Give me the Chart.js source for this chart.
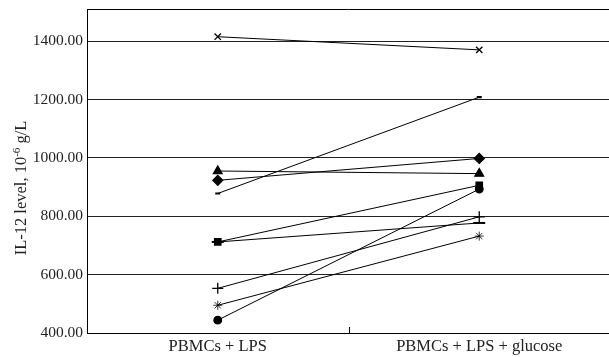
<!DOCTYPE html>
<html>
<head>
<meta charset="utf-8">
<script src="https://cdn.jsdelivr.net/npm/chart.js@4.4.1/dist/chart.umd.min.js"></script>
<style>
  html, body { margin: 0; padding: 0; background: #fff; overflow: hidden; }
  #wrap { width: 618px; height: 357px; }
</style>
</head>
<body>
<div id="wrap"><canvas id="il12" width="618" height="357"></canvas></div>
<script>
// Werte
const categories = ['PBMCs + LPS', 'PBMCs + LPS + glucose'];
const yTicks = [400, 600, 800, 1000, 1200, 1400];

const seriesCross     = [1415, 1370];
const seriesShortDash = [878, 1208];
const seriesTriangle  = [955, 946];
const seriesDiamond   = [923, 998];
const seriesSquare    = [712, 906];
const seriesLongDash  = [712, 777];
const seriesPlus      = [553, 798];
const seriesStar      = [495, 732];
const seriesCircle    = [444, 893];

const FONT = '"Liberation Serif", "Times New Roman", serif';

function ds(data, style, radius, extra) {
    return Object.assign({
        data: data,
        borderColor: '#000',
        backgroundColor: '#000',
        borderWidth: 1,
        pointStyle: style,
        pointRadius: radius,
        pointBorderColor: '#000',
        pointBackgroundColor: '#000',
        pointBorderWidth: 1.3,
        tension: 0,
    }, extra || {});
}

// Rahmen oben, kleiner Tick in der Mitte der x-Achse, y-Achsentitel mit Hochzahl
const decorPlugin = {
    id: 'decor',
    afterDraw(chart) {
        const ctx = chart.ctx;
        const a = chart.chartArea;
        const x = chart.scales.x;
        ctx.save();
        ctx.strokeStyle = '#000';
        ctx.lineWidth = 1;
        ctx.beginPath();
        ctx.moveTo(a.left, Math.round(a.top) + 0.5);
        ctx.lineTo(a.right, Math.round(a.top) + 0.5);
        const mid = Math.round(x.getPixelForValue(0.5)) + 0.5;
        ctx.moveTo(mid, a.bottom);
        ctx.lineTo(mid, a.bottom - 6);
        ctx.stroke();

        // Achsentitel
        ctx.translate(22, 188);
        ctx.rotate(-Math.PI / 2);
        ctx.fillStyle = '#222';
        ctx.textBaseline = 'middle';
        const big = '16.5px ' + FONT, small = '11px ' + FONT;
        const p1 = 'IL-12 level, 10', p2 = '-6', p3 = ' g/L';
        ctx.font = big; const w1 = ctx.measureText(p1).width, w3 = ctx.measureText(p3).width;
        ctx.font = small; const w2 = ctx.measureText(p2).width;
        let sx = -(w1 + w2 + w3) / 2;
        ctx.textAlign = 'left';
        ctx.font = big; ctx.fillText(p1, sx, 0); sx += w1;
        ctx.font = small; ctx.fillText(p2, sx, -5); sx += w2;
        ctx.font = big; ctx.fillText(p3, sx, 0);
        ctx.restore();
    }
};

new Chart(document.getElementById('il12'), {
    type: 'line',
    data: {
        labels: categories,
        datasets: [
            ds(seriesCross, 'crossRot', 4.5),
            ds(seriesShortDash, 'line', 2.5, { pointBorderWidth: 2.2 }),
            ds(seriesTriangle, 'triangle', 5),
            ds(seriesDiamond, 'rectRot', 5),
            ds(seriesSquare, 'rect', 4.5),
            ds(seriesLongDash, 'line', 6, { pointBorderWidth: 2 }),
            ds(seriesPlus, 'cross', 5.5),
            ds(seriesStar, 'star', 4.5, { pointBorderWidth: 0.8 }),
            ds(seriesCircle, 'circle', 3.8),
        ],
    },
    options: {
        responsive: false,
        animation: false,
        devicePixelRatio: 1,
        layout: { padding: { top: 9, right: 0, left: 0, bottom: 0 } },
        plugins: { legend: { display: false }, tooltip: { enabled: false } },
        scales: {
            x: {
                offset: true,
                afterFit: function (s) { s.height = 24; s.paddingLeft = 0; s.paddingRight = 0; },
                grid: { display: false, drawTicks: false },
                border: { display: true, color: '#000', width: 1 },
                ticks: { color: '#222', padding: 4, font: { family: FONT, size: 16.5 } },
            },
            y: {
                min: 400,
                max: 1510,
                afterFit: function (s) { s.width = 87; s.paddingTop = 0; s.paddingBottom = 0; },
                afterBuildTicks: function (s) { s.ticks = yTicks.map(v => ({ value: v })); },
                grid: { color: '#222', lineWidth: 1, drawTicks: false },
                border: { display: true, color: '#000', width: 1 },
                ticks: {
                    color: '#222',
                    padding: 4,
                    font: { family: FONT, size: 15.5 },
                    callback: v => Number(v).toFixed(2),
                },
            },
        },
    },
    plugins: [decorPlugin],
});
</script>
</body>
</html>
